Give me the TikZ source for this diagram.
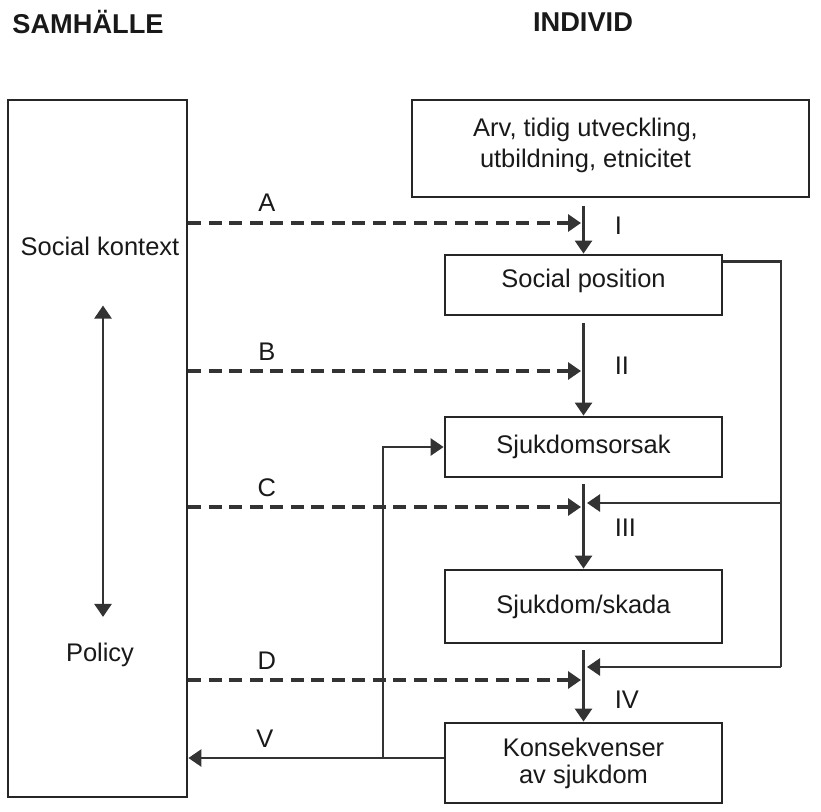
\documentclass[tikz,border=0pt]{standalone}
\usepackage{fontspec}
\setmainfont{Liberation Sans}
\usetikzlibrary{arrows.meta}

\begin{document}
\begin{tikzpicture}[x=0.02cm,y=-0.02cm,
  every node/.style={font=\fontsize{14.5}{16.5}\selectfont,text=black!90},
  box/.style={draw=black!85,line width=1.6pt,minimum width=5.54cm,inner sep=0pt,align=center},
  conn/.style={draw=black!80,line width=1.5pt},
  flow/.style={conn,-{Triangle[length=0.26cm,width=0.34cm]}},
  policy/.style={flow,line width=1.8pt,dash pattern=on 0.26cm off 0.15cm},
  lbl/.style={above=5pt,inner sep=0pt},
  steplbl/.style={right=0.6cm,inner sep=0pt},
  title/.style={font=\fontsize{15.5}{17}\selectfont\bfseries}]
\useasboundingbox (0,0) rectangle (821,811);

\node[title] (samh) at (88,22) {SAMHÄLLE};
\node[title] (indiv) at (583,22) {INDIVID};

% samhaelle side
\node[draw=black!85,line width=1.6pt,minimum width=3.58cm,minimum height=13.94cm] (samhalle) at (97.5,448.5) {};
\node (ctx) at (100,246) {Social kontext};
\node (pol) at (100,655) {Policy};
\draw[conn,{Triangle[length=0.26cm,width=0.34cm]}-{Triangle[length=0.26cm,width=0.34cm]},
  shorten <=0.88cm,shorten >=0.4cm] ([xshift=0.06cm]ctx.south) -- ([xshift=0.06cm]pol.north);

% individ side
\node[box,line width=0.8pt,minimum width=7.94cm,minimum height=1.94cm,
  label={[align=center,font=\fontsize{14.5}{17.3}\selectfont,xshift=-0.5cm,yshift=0.06cm]center:Arv, tidig utveckling,\\utbildning, etnicitet}] (arv) at (610.5,148.5) {};
\node[box,minimum height=1.2cm,text depth=0.25cm] (socpos) at (583.5,285) {Social position};
\node[box,minimum height=1.2cm] (orsak) at (583.5,447) {Sjukdomsorsak};
\node[box,minimum height=1.46cm] (skada) at (583.5,606.5) {Sjukdom/skada};
\node[box,minimum height=1.6cm,font=\fontsize{14.5}{15.3}\selectfont] (konsek) at (583.5,763) {Konsekvenser\\av sjukdom};

\draw[flow,shorten <=0.16cm] (socpos.north |- arv.south) -- (socpos.north) node[steplbl,midway] {I};
\draw[flow,shorten <=0.14cm] (socpos.south) -- (orsak.north) node[steplbl,midway] {II};
\draw[flow,shorten <=0.12cm] (orsak.south) -- (skada.north) node[steplbl,pos=0.55] {III};
\draw[flow,shorten <=0.12cm] (skada.south) -- (konsek.north) node[steplbl,pos=0.72] {IV};

% policy entry points
\coordinate (tipA) at (581,223);
\coordinate (tipB) at (581,371);
\coordinate (tipC) at (581,507);
\coordinate (tipD) at (581,680);
\draw[policy] (samhalle.east |- tipA) -- (tipA) node[lbl,above=0.7pt,pos=0.2] {A};
\draw[policy] (samhalle.east |- tipB) -- (tipB) node[lbl,pos=0.2] {B};
\draw[policy] (samhalle.east |- tipC) -- (tipC) node[lbl,pos=0.2] {C};
\draw[policy] (samhalle.east |- tipD) -- (tipD) node[lbl,pos=0.2] {D};

% feedback from social position
\coordinate (fbtop) at ([yshift=-0.16cm]socpos.north east);
\coordinate (fbc) at (781,503);
\coordinate (fbd) at (781,667);
\coordinate (inc) at (587,503);
\coordinate (ind) at (587,667);
\draw[conn] (fbtop) -| (fbd);
\draw[flow] (fbc) -- (inc);
\draw[flow] (fbd) -- (ind);

% consequences back to society
\coordinate (vout) at ([yshift=0.1cm]konsek.west);
\coordinate (split) at (383,0);
\draw[flow] (vout) -- (samhalle.east |- vout) node[lbl,pos=0.7] {V};
\draw[flow] (split |- vout) |- (orsak.west);
\end{tikzpicture}
\end{document}
